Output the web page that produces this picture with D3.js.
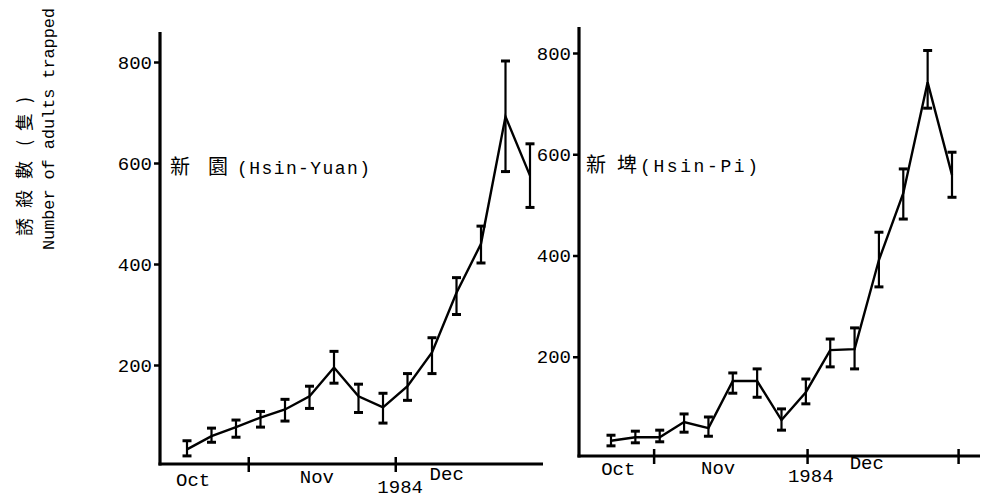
<!DOCTYPE html>
<html>
<head>
<meta charset="utf-8">
<script src="https://cdn.jsdelivr.net/npm/d3@7"></script>
<style>
  html, body { margin: 0; padding: 0; background: #fff; }
  svg { display: block; }
  text { fill: #000; }
</style>
</head>
<body>
<svg id="chart" width="982" height="498"></svg>
<script>
// ---------- data ----------
const samples = d3.range(15); // 15 sampling dates, equally spaced (Oct - Dec 1984)
const yTicks = [200, 400, 600, 800];

// 新園 (Hsin-Yuan)
const hyMean = [33, 59, 77, 96, 112, 138, 195, 138, 116, 158, 225, 343, 440, 692, 575];
const hyHigh = [50, 75, 91, 108, 132, 158, 227, 162, 144, 183, 254, 373, 475, 802, 638];
const hyLow  = [20, 47, 57, 77, 89, 114, 164, 106, 85, 130, 183, 300, 402, 583, 512];

// 新埤 (Hsin-Pi)
const hpMean = [34, 41, 41, 71, 59, 152, 152, 75, 130, 213, 215, 391, 523, 742, 559];
const hpHigh = [45, 53, 55, 87, 81, 168, 176, 97, 156, 235, 257, 446, 571, 805, 604];
const hpLow  = [24, 30, 32, 51, 43, 128, 120, 55, 107, 180, 176, 338, 472, 691, 515];

// month boundary ticks (in sample-index units) and month labels
const hyMonthTicks = [2.5, 8.5];
const hpMonthTicks = [1.75, 8.05, 14.25];
const monthNames = ["Oct", "Nov", "Dec"];
const yearLabel = "1984";

const yTitleZh = ["誘", "殺", "數", "(", "隻", ")"];
const yTitleEn = "Number of adults trapped";
const hyTitleZh = ["新", "園"];
const hyTitleEn = "(Hsin-Yuan)";
const hpTitleZh = ["新", "埤"];
const hpTitleEn = "(Hsin-Pi)";

// ---------- drawing ----------
const svg = d3.select("#chart");
const MONO = "'Liberation Mono', 'DejaVu Sans Mono', monospace";
const CJK = "'Noto Sans CJK TC', 'Noto Sans CJK SC', sans-serif";

// y-axis title (rotated, reading bottom to top)
const zhCentres = [227, 199, 170, 143, 122, 100];
yTitleZh.forEach((c, i) => {
  svg.append("text")
    .attr("transform", `translate(23,${zhCentres[i]}) rotate(-90)`)
    .attr("text-anchor", "middle")
    .attr("dominant-baseline", "central")
    .attr("font-family", CJK)
    .attr("font-size", 18)
    .text(c);
});
svg.append("text")
  .attr("transform", "translate(54,129) rotate(-90)")
  .attr("text-anchor", "middle")
  .attr("font-family", MONO)
  .attr("font-size", 17)
  .attr("textLength", 242)
  .attr("lengthAdjust", "spacing")
  .text(yTitleEn);

function panel(cfg) {
  const g = svg.append("g");
  const x = d3.scaleLinear().domain([0, 14]).range(cfg.xRange);
  const y = d3.scaleLinear().domain([0, 800]).range(cfg.yRange);

  const axisX = cfg.axisX, axisY = cfg.axisY;

  // y axis line
  g.append("line")
    .attr("x1", axisX).attr("x2", axisX)
    .attr("y1", cfg.yTop).attr("y2", axisY + 1.5)
    .attr("stroke", "#000").attr("stroke-width", 3.2);
  // x axis line
  g.append("line")
    .attr("x1", axisX - 1.5).attr("x2", cfg.xEnd)
    .attr("y1", axisY).attr("y2", axisY)
    .attr("stroke", "#000").attr("stroke-width", 3.2);

  // y ticks
  const ya = g.append("g")
    .attr("transform", `translate(${axisX},0)`)
    .call(d3.axisLeft(y).tickValues(yTicks).tickSize(6).tickPadding(2).tickFormat(d3.format("d")));
  ya.select(".domain").remove();
  ya.selectAll(".tick line").attr("stroke", "#000").attr("stroke-width", 2.5);
  ya.selectAll(".tick text")
    .attr("font-family", MONO).attr("font-size", 19).attr("fill", "#000");

  // x ticks (month boundaries, crossing the axis)
  const xa = g.append("g")
    .attr("transform", `translate(0,${axisY})`)
    .call(d3.axisBottom(x).tickValues(cfg.monthTicks).tickSize(7).tickFormat(""));
  xa.select(".domain").remove();
  xa.selectAll(".tick line").attr("y1", -7).attr("y2", 8)
    .attr("stroke", "#000").attr("stroke-width", 2.5);

  // month labels
  monthNames.forEach((m, i) => {
    g.append("text")
      .attr("x", x(cfg.monthPos[i])).attr("y", cfg.monthY[i])
      .attr("text-anchor", "middle")
      .attr("font-family", MONO).attr("font-size", 19)
      .text(m);
  });
  g.append("text")
    .attr("x", x(cfg.yearPos)).attr("y", cfg.yearY)
    .attr("text-anchor", "middle")
    .attr("font-family", MONO).attr("font-size", 19)
    .text(yearLabel);

  // mean line
  const line = d3.line().x((d, i) => x(i)).y(d => y(d));
  g.append("path")
    .datum(cfg.mean)
    .attr("d", line)
    .attr("fill", "none").attr("stroke", "#000").attr("stroke-width", 2.4)
    .attr("stroke-linejoin", "miter");

  // error bars
  const eb = g.selectAll(".eb").data(samples).join("g").attr("class", "eb");
  eb.append("line")
    .attr("x1", i => x(i)).attr("x2", i => x(i))
    .attr("y1", i => y(cfg.high[i])).attr("y2", i => y(cfg.low[i]))
    .attr("stroke", "#000").attr("stroke-width", 2.2);
  eb.append("line")
    .attr("x1", i => x(i) - 4.5).attr("x2", i => x(i) + 4.5)
    .attr("y1", i => y(cfg.high[i])).attr("y2", i => y(cfg.high[i]))
    .attr("stroke", "#000").attr("stroke-width", 3);
  eb.append("line")
    .attr("x1", i => x(i) - 4.5).attr("x2", i => x(i) + 4.5)
    .attr("y1", i => y(cfg.low[i])).attr("y2", i => y(cfg.low[i]))
    .attr("stroke", "#000").attr("stroke-width", 3);

  // panel title
  cfg.titleZh.forEach((c, i) => {
    g.append("text")
      .attr("x", cfg.titleZhX[i]).attr("y", cfg.titleY)
      .attr("font-family", CJK).attr("font-size", 20)
      .text(c);
  });
  g.append("text")
    .attr("x", cfg.titleEnX).attr("y", cfg.titleY)
    .attr("font-family", MONO).attr("font-size", 18)
    .attr("textLength", cfg.titleEnLen)
    .attr("lengthAdjust", "spacing")
    .text(cfg.titleEn);
}

panel({
  xRange: [187, 530], yRange: [466, 62],
  axisX: 160, axisY: 464, yTop: 32, xEnd: 543,
  monthTicks: hyMonthTicks,
  monthPos: [0.25, 5.3, 10.6], monthY: [486, 483, 480],
  yearPos: 8.7, yearY: 493,
  mean: hyMean, high: hyHigh, low: hyLow,
  titleZh: hyTitleZh, titleZhX: [170, 208], titleEn: hyTitleEn,
  titleY: 174, titleEnX: 237, titleEnLen: 133
});

panel({
  xRange: [611, 952], yRange: [458, 53],
  axisX: 579, axisY: 456, yTop: 27, xEnd: 980,
  monthTicks: hpMonthTicks,
  monthPos: [0.3, 4.4, 10.5], monthY: [475, 474, 469],
  yearPos: 8.2, yearY: 482,
  mean: hpMean, high: hpHigh, low: hpLow,
  titleZh: hpTitleZh, titleZhX: [586, 617], titleEn: hpTitleEn,
  titleY: 172, titleEnX: 640, titleEnLen: 118
});
</script>
</body>
</html>
